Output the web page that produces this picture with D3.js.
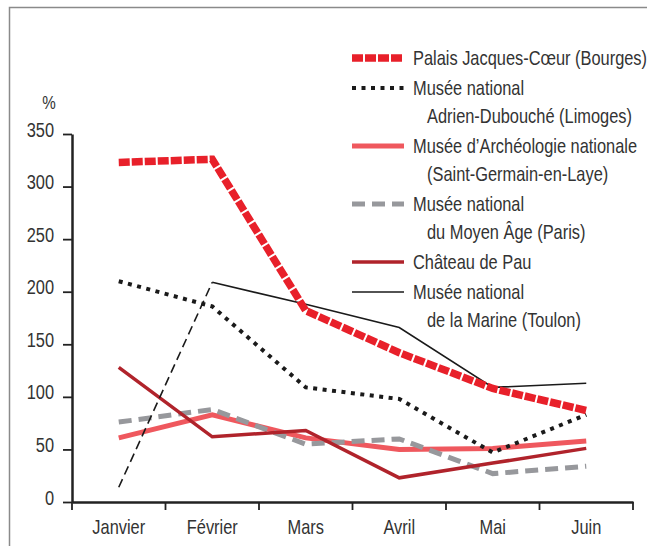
<!DOCTYPE html>
<html>
<head>
<meta charset="utf-8">
<script src="https://cdn.jsdelivr.net/npm/d3@7"></script>
<style>
  body { margin: 0; background: #fff; }
  svg { display: block; }
  text { font-family: 'Liberation Sans', Arial, sans-serif; fill: #333; }
</style>
</head>
<body>
<svg width="647" height="546"></svg>
<script>
let months = ['Janvier', 'Février', 'Mars', 'Avril', 'Mai', 'Juin']
let yTicks = [0, 50, 100, 150, 200, 250, 300, 350]

// fréquentation en %
let bourges = [323, 326, 182, 142, 108, 87]
let limoges = [210, 186, 109, 98, 47, 83]
let archeo = [61, 83, 61, 50, 51, 58]
let moyenAge = [76, 88, 55, 60, 27, 34]
let pau = [128, 62, 68, 23, 37, 51]
let toulon = [14, 209, 188, 166, 109, 113]

let width = 647
let height = 546
let margin = { top: 134, bottom: 44, left: 72, right: 14 }
let fontFamily = "'Liberation Sans', Arial, sans-serif"
let fs = 20.5

let svg = d3.select('svg')

// cadre
svg.append('path')
  .attr('d', 'M9.5,560 V7.5 H660')
  .attr('fill', 'none')
  .attr('stroke', '#8a8a8a')
  .attr('stroke-width', 1.5)

let xScale = d3.scaleBand()
  .domain(months)
  .range([margin.left, width - margin.right])
  .padding(0)

let yScale = d3.scaleLinear()
  .domain([0, 350])
  .range([height - margin.bottom, margin.top])

let x = d => xScale(d) + xScale.bandwidth() / 2

// axe Y
let yAxis = svg.append('g')
  .attr('transform', `translate(${margin.left},0)`)
  .call(d3.axisLeft(yScale).tickValues(yTicks).tickSize(9).tickSizeOuter(0).tickPadding(9))
yAxis.select('.domain').attr('stroke', '#222').attr('stroke-width', 2.5)
yAxis.selectAll('.tick line').attr('stroke', '#222').attr('stroke-width', 1.8)
yAxis.selectAll('.tick text')
  .attr('font-size', fs)
  .attr('dy', '0.1em')
  .style('font-family', fontFamily)
  .attr('fill', '#333')

svg.append('text')
  .attr('x', 49)
  .attr('y', 109)
  .attr('text-anchor', 'middle')
  .attr('font-size', 19)
  .text('%')

// axe X
let xAxis = svg.append('g')
  .attr('transform', `translate(0,${height - margin.bottom})`)
  .call(d3.axisBottom(xScale).tickSize(0).tickPadding(0).tickSizeOuter(0))
xAxis.select('.domain').attr('stroke', '#222').attr('stroke-width', 2.5)
xAxis.selectAll('.tick text')
  .attr('font-size', fs)
  .attr('y', 32.5)
  .attr('dy', 0)
  .style('font-family', fontFamily)
  .attr('fill', '#333')

let edges = months.map(m => xScale(m)).concat([xScale(months[months.length - 1]) + xScale.bandwidth()])
xAxis.selectAll('.edge')
  .data(edges)
  .enter()
  .append('line')
  .attr('x1', d => d)
  .attr('x2', d => d)
  .attr('y1', 0)
  .attr('y2', 8)
  .attr('stroke', '#222')
  .attr('stroke-width', 1.8)

let series = [
  { name: ['Musée d’Archéologie nationale', '(Saint-Germain-en-Laye)'], values: archeo, color: '#ef585e', width: 5, dash: null },
  { name: ['Musée national', 'du Moyen Âge (Paris)'], values: moyenAge, color: '#97989c', width: 5, dash: '13,7' },
  { name: ['Château de Pau'], values: pau, color: '#b0232b', width: 3.5, dash: null },
  { name: ['Musée national', 'de la Marine (Toulon)'], values: toulon, color: '#1a1a1a', width: 1.6, dash: null },
  { name: ['Musée national', 'Adrien-Dubouché (Limoges)'], values: limoges, color: '#1a1a1a', width: 4, dash: '4,5.5' },
  { name: ['Palais Jacques-Cœur (Bourges)'], values: bourges, color: '#e8202a', width: 7.5, dash: '11,2' }
]

let line = d3.line()
  .x((d, i) => x(months[i]))
  .y(d => yScale(d))

series.forEach(s => {
  let vals = s.values
  if (s.values === toulon) {
    // janvier-février en tirets
    svg.append('path')
      .attr('d', d3.line().x(d => x(d.m)).y(d => yScale(d.v))([{ m: months[0], v: vals[0] }, { m: months[1], v: vals[1] }]))
      .attr('fill', 'none')
      .attr('stroke', s.color)
      .attr('stroke-width', s.width)
      .attr('stroke-dasharray', '9,5')
    svg.append('path')
      .attr('d', d3.line().x(d => x(d.m)).y(d => yScale(d.v))(vals.slice(1).map((v, i) => ({ m: months[i + 1], v }))))
      .attr('fill', 'none')
      .attr('stroke', s.color)
      .attr('stroke-width', s.width)
  } else {
    svg.append('path')
      .attr('d', line(vals))
      .attr('fill', 'none')
      .attr('stroke', s.color)
      .attr('stroke-width', s.width)
      .attr('stroke-dasharray', s.dash)
  }
})

// légende
let legendOrder = [5, 4, 0, 1, 2, 3].map(i => series[i])
let ly = 58
let legend = svg.append('g')
legendOrder.forEach(s => {
  legend.append('line')
    .attr('x1', 352)
    .attr('x2', 404)
    .attr('y1', ly)
    .attr('y2', ly)
    .attr('stroke', s.color)
    .attr('stroke-width', s.width)
    .attr('stroke-dasharray', s.dash)
  s.name.forEach((t, j) => {
    legend.append('text')
      .attr('x', j === 0 ? 413 : 427)
      .attr('y', ly + j * 28 + 7)
      .attr('font-size', fs)
      .text(t)
  })
  ly += s.name.length * 28 + 2
})

// police condensée : compression horizontale autour du point d'ancrage
svg.selectAll('text').each(function () {
  let ax = +(this.getAttribute('x') || 0)
  d3.select(this).attr('transform', `translate(${ax * 0.2},0) scale(0.8,1)`)
})
</script>
</body>
</html>
